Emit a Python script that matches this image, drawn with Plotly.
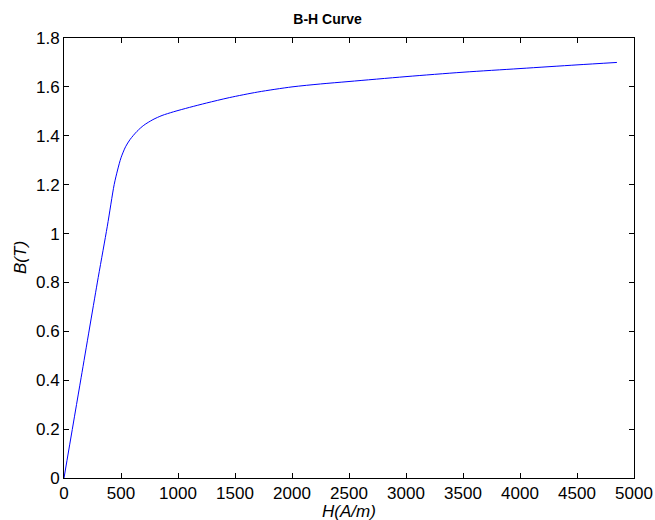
import plotly.graph_objects as go

H = [0, 150, 300, 380, 440, 470, 500, 540, 580, 640, 700, 780, 860, 960,
     1100, 1250, 1450, 1700, 2000, 2250, 2500, 3000, 3500, 4000, 4500, 4850]
B = [0, 0.41, 0.82, 1.03, 1.2, 1.26, 1.31, 1.355, 1.385, 1.418, 1.443, 1.466,
     1.483, 1.498, 1.516, 1.534, 1.556, 1.579, 1.6, 1.612, 1.622, 1.642, 1.66,
     1.675, 1.69, 1.70]

x_ticks = list(range(0, 5001, 500))
y_ticks = [0, 0.2, 0.4, 0.6, 0.8, 1.0, 1.2, 1.4, 1.6, 1.8]
y_tick_text = ["0", "0.2", "0.4", "0.6", "0.8", "1", "1.2", "1.4", "1.6", "1.8"]

font = "Liberation Sans, Arial, sans-serif"

fig = go.Figure()
fig.add_trace(go.Scatter(x=H, y=B, mode="lines",
                         line=dict(color="#0000ff", width=1, shape="spline", smoothing=0.8),
                         showlegend=False, hoverinfo="skip"))

axis_common = dict(showline=True, linecolor="black", linewidth=1, mirror="ticks",
                   ticks="inside", ticklen=5, tickcolor="black", showgrid=False,
                   zeroline=False, automargin=False,
                   tickfont=dict(family=font, size=17, color="black"))

fig.update_layout(
    width=655, height=520,
    margin=dict(l=64, r=21, t=38, b=42),
    paper_bgcolor="white", plot_bgcolor="white",
    title=dict(text="<b>B-H Curve</b>", x=0.5, xanchor="center", y=1 - 19 / 520, yanchor="middle",
               font=dict(family=font, size=14, color="black")),
    xaxis=dict(range=[0, 5000], tickvals=x_ticks, ticktext=[str(v) for v in x_ticks],
               ticklabelstandoff=0, **axis_common),
    yaxis=dict(range=[0, 1.8], tickvals=y_ticks, ticktext=y_tick_text,
               ticklabelstandoff=0, **axis_common),
)
fig.add_annotation(text="<i>H(A/m)</i>", xref="paper", yref="paper", x=0.5, y=0,
                   yshift=-33, yanchor="middle", showarrow=False,
                   font=dict(family=font, size=17, color="black"))
fig.add_annotation(text="<i>B(T)</i>", xref="paper", yref="paper", x=0, y=0.5,
                   xshift=-44, xanchor="center", textangle=-90, showarrow=False,
                   font=dict(family=font, size=17, color="black"))

fig.write_html("out.html", config={"displayModeBar": False},
               post_script="document.body.style.margin='0';document.body.style.overflow='hidden';")
